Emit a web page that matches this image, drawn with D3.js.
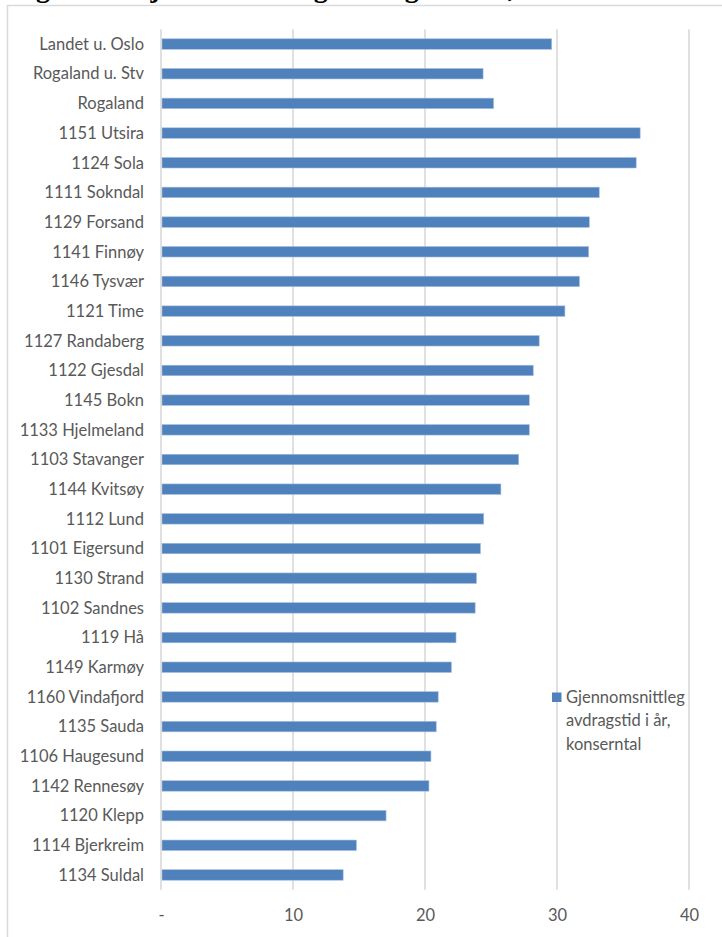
<!DOCTYPE html>
<html>
<head>
<meta charset="utf-8">
<script src="https://cdn.jsdelivr.net/npm/d3@7"></script>
<style>
  html, body { margin: 0; padding: 0; background: #fff; overflow: hidden; }
  svg { display: block; }
</style>
</head>
<body>
<svg id="chart" width="722" height="937"></svg>
<script>
const titleText = "Figur 12: Gjennomsnittleg avdragstid i år, konserntal";
const categories = [
  "Landet u. Oslo", "Rogaland u. Stv", "Rogaland", "1151 Utsira", "1124 Sola",
  "1111 Sokndal", "1129 Forsand", "1141 Finnøy", "1146 Tysvær", "1121 Time",
  "1127 Randaberg", "1122 Gjesdal", "1145 Bokn", "1133 Hjelmeland", "1103 Stavanger",
  "1144 Kvitsøy", "1112 Lund", "1101 Eigersund", "1130 Strand", "1102 Sandnes",
  "1119 Hå", "1149 Karmøy", "1160 Vindafjord", "1135 Sauda", "1106 Haugesund",
  "1142 Rennesøy", "1120 Klepp", "1114 Bjerkreim", "1134 Suldal"
];
const values = [
  29.6, 24.4, 25.2, 36.3, 36.0,
  33.2, 32.45, 32.4, 31.7, 30.6,
  28.65, 28.2, 27.9, 27.9, 27.1,
  25.75, 24.45, 24.2, 23.9, 23.8,
  22.35, 22.0, 21.0, 20.85, 20.45,
  20.3, 17.05, 14.8, 13.8
];
const xTicks = [0, 10, 20, 30, 40];
const seriesName = ["Gjennomsnittleg", "avdragstid i år,", "konserntal"];

const data = categories.map((c, i) => ({ name: c, value: values[i] }));

const svg = d3.select("#chart");
const textColor = "#595959";
const gridColor = "#d9d9d9";
const barColor = "#4f81bd";
const font = "Lato, 'Open Sans', sans-serif";

// outer chart border (partially visible)
svg.append("line").attr("x1", 7.5).attr("x2", 7.5).attr("y1", 5).attr("y2", 937)
  .attr("stroke", gridColor).attr("stroke-width", 1.5);
svg.append("line").attr("x1", 7).attr("x2", 722).attr("y1", 5.5).attr("y2", 5.5)
  .attr("stroke", gridColor).attr("stroke-width", 1.5);

// cut-off document heading above the chart
svg.append("text")
  .attr("x", 11).attr("y", -3.5)
  .attr("font-family", "'Liberation Serif', 'Times New Roman', serif")
  .attr("font-weight", "bold")
  .attr("font-size", 28)
  .attr("fill", "#000")
  .text(titleText);

const x = d3.scaleLinear().domain([0, 40]).range([161, 689]);
const y = d3.scaleBand().domain(categories).range([29.2, 889.8])
  .paddingInner(0.646).paddingOuter(0.323);

// gridlines
svg.append("g").selectAll("line").data(xTicks).join("line")
  .attr("x1", d => x(d)).attr("x2", d => x(d))
  .attr("y1", 29.2).attr("y2", 889.8)
  .attr("stroke", gridColor).attr("stroke-width", 1.6);

// bars
svg.append("g").selectAll("rect").data(data).join("rect")
  .attr("x", x(0) + 1)
  .attr("y", d => y(d.name))
  .attr("width", d => x(d.value) - x(0) - 1)
  .attr("height", y.bandwidth())
  .attr("fill", barColor)
  .attr("stroke", "#a7bfdc").attr("stroke-width", 0.6);

// category labels
svg.append("g").selectAll("text").data(data).join("text")
  .attr("x", 144)
  .attr("y", d => y(d.name) + y.bandwidth() / 2)
  .attr("dy", "0.35em")
  .attr("text-anchor", "end")
  .attr("font-family", font)
  .attr("font-size", 16.5)
  .attr("fill", textColor)
  .text(d => d.name);

// x axis tick labels
const xAxis = d3.axisBottom(x).tickValues(xTicks)
  .tickFormat(d => d === 0 ? "-" : d3.format("d")(d))
  .tickSize(0).tickPadding(0);
const gx = svg.append("g").attr("transform", "translate(0,909)").call(xAxis);
gx.select(".domain").remove();
gx.selectAll("text")
  .attr("font-family", font)
  .attr("font-size", 16.5)
  .attr("fill", textColor)
  .attr("dy", "0.71em");

// legend
const lg = svg.append("g");
lg.append("rect").attr("x", 552).attr("y", 692.5).attr("width", 9.5).attr("height", 9.5)
  .attr("fill", barColor);
lg.append("text")
  .attr("font-family", font).attr("font-size", 16.5).attr("fill", textColor)
  .selectAll("tspan").data(seriesName).join("tspan")
  .attr("x", 566)
  .attr("y", (d, i) => 703 + i * 23.3)
  .text(d => d);
</script>
</body>
</html>
